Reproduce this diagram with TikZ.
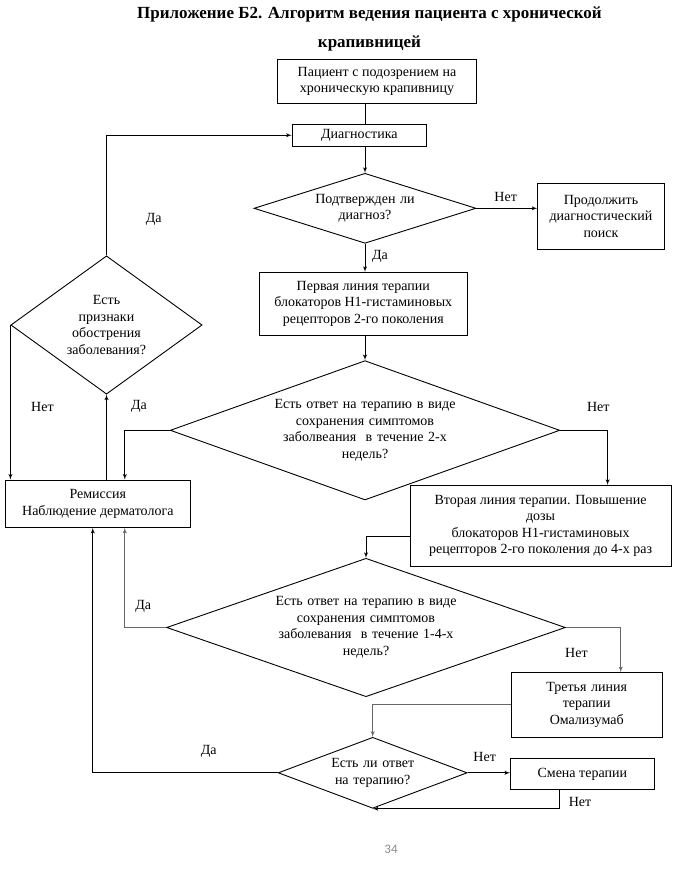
\documentclass[tikz,border=0pt]{standalone}
\usepackage{fontspec}
\setmainfont{Liberation Serif}
\newfontfamily\pagefont{Carlito}
\usepackage{tikz}
\usetikzlibrary{shapes.geometric}
\usetikzlibrary{arrows}

\begin{document}
\begin{tikzpicture}[x=1pt,y=-1pt,->,>=latex',line width=0.9pt,
		every node/.style={font=\fontsize{14}{16.5}\selectfont},
		box node/.style={draw,rectangle,align=center,inner sep=0pt},
		decision node/.style={draw,diamond,align=center,inner sep=0pt},
		grey line/.style={draw=black!60}]
		
		\useasboundingbox (0,0) rectangle (682,873);
		
		\node[align=center,font=\bfseries\fontsize{17}{28.5}\selectfont] (title) at (369.5,29)
		{Приложение Б2. Алгоритм ведения пациента с хронической\\ крапивницей};
		
		\node[box node, minimum width=199, minimum height=44] (pat) at (377,81.3)
		{Пациент с подозрением на\\ хроническую крапивницу};
		\node[box node, minimum width=134.5, minimum height=21.7] (dgn) at (359.4,135.2) {Диагностика};
		\node[decision node, minimum width=222, minimum height=70, aspect=3.17, text width=105] (dg1) at (365,208.3)
		{Подтвержден ли\\ диагноз?};
		\node[box node, minimum width=126.6, minimum height=66, text width=120] (cont) at (601,216.3)
		{Продолжить\\ диагностический\\ поиск};
		\node[box node, minimum width=208, minimum height=63] (first) at (363.3,303.8)
		{Первая линия терапии\\ блокаторов Н1-гистаминовых\\ рецепторов 2-го поколения};
		\node[decision node, minimum width=191.3, minimum height=138.3, aspect=1.38, text width=84] (flare) at (106.5,325)
		{Есть\\ признаки\\ обострения\\ заболевания?};
		\node[decision node, minimum width=389.5, minimum height=139.3, aspect=2.8, text width=185] (dg2) at (365,430.3)
		{Есть ответ на терапию в виде\\ сохранения симптомов\\ заболвеания\ \ в течение 2-х\\ недель?};
		\node[box node, minimum width=185.2, minimum height=47.3] (rem) at (97.8,503.7)
		{Ремиссия\\ Наблюдение дерматолога};
		\node[box node, minimum width=261.2, minimum height=80.7] (sec) at (540.6,525.7)
		{Вторая линия терапии. Повышение\\ дозы\\ блокаторов Н1-гистаминовых\\ рецепторов 2-го поколения до 4-х раз};
		\node[decision node, minimum width=398.7, minimum height=138.4, aspect=2.88, text width=185] (dg3) at (366,627.5)
		{Есть ответ на терапию в виде\\ сохранения симптомов\\ заболевания\ \ в течение 1-4-х\\ недель?};
		\node[box node, minimum width=150.6, minimum height=64.3, text width=140] (third) at (586.7,704.8)
		{Третья линия\\ терапии\\ Омализумаб};
		\node[decision node, minimum width=189, minimum height=71, aspect=2.66, text width=92] (dg4) at (372.7,772.8)
		{Есть ли ответ\\ на терапию?};
		\node[box node, minimum width=143.6, minimum height=30.6] (chg) at (582.3,774) {Смена терапии};
		
		% yes / no labels
		\node (no1) at (505.7,196.7) {Нет};
		\node (yes1) at (380,256.7) {Да};
		\node (yes0) at (153.7,219.3) {Да};
		\node (no0) at (42.4,406.7) {Нет};
		\node (yes2) at (138.9,406.7) {Да};
		\node (no2) at (598.3,406.7) {Нет};
		\node (yes3) at (143.2,606) {Да};
		\node (no3) at (576.4,653.3) {Нет};
		\node (yes4) at (208.7,751.7) {Да};
		\node (no4) at (484.7,757.3) {Нет};
		\node (no5) at (580,802.3) {Нет};
		
		\node[text=black!45,font=\pagefont\fontsize{13}{15}\selectfont] (page) at (391,849.3) {34};
		
		\draw[-] (pat.south -| dg1.north) -- (dgn.north -| dg1.north);
		\draw (dgn.south -| dg1.north) -- (dg1.north);
		\draw (dg1.east) -- (dg1.east -| cont.west);
		\draw (dg1.south) -- (first.north -| dg1.south);
		\draw (first.south -| dg2.north) -- (dg2.north);
		\draw (flare.north) |- (dgn.west);
		\draw (flare.west) -- (flare.west |- rem.north);
		\draw (rem.north -| flare.south) -- (flare.south);
		\draw (dg2.west) -| ([xshift=27pt]rem.north);
		\draw (dg2.east) -| ([xshift=67pt]sec.north);
		\draw ([yshift=-11pt]sec.west) -| (dg3.north);
		\draw[grey line] (dg3.west) -| ([xshift=27pt]rem.south);
		\draw[grey line] (dg3.east) -| ([xshift=34pt]third.north);
		\draw[grey line] (third.west) -| (dg4.north);
		\draw (dg4.west) -| ([xshift=-5pt]rem.south);
		\draw (dg4.east) -- (dg4.east -| chg.west);
		\draw ([xshift=-22.5pt]chg.south) |- (dg4.south);
		
\end{tikzpicture}
\end{document}
